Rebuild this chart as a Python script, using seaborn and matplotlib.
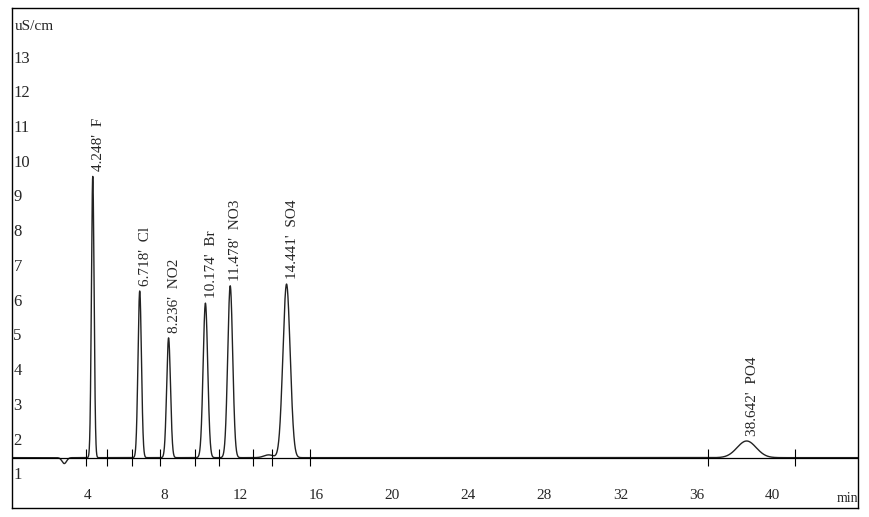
import numpy as np
import pandas as pd
import seaborn as sns
import matplotlib.pyplot as plt

# === Peak table ===
ions       = ['F', 'Cl', 'NO2', 'Br', 'NO3', 'SO4', 'PO4']
ret_times  = [4.248, 6.718, 8.236, 10.174, 11.478, 14.441, 38.642]
heights    = [8.1, 4.8, 3.45, 4.45, 4.95, 5.0, 0.48]   # above baseline
widths     = [0.07, 0.09, 0.10, 0.12, 0.13, 0.19, 0.50]   # peak sigma, min
BASELINE   = 1.45
# small features: system dip and bump
extra_t    = [2.75, 13.5]
extra_h    = [-0.17, 0.08]
extra_w    = [0.12, 0.25]
# integration marks on baseline
marks      = [3.9, 5.0, 6.3, 7.8, 9.6, 10.9, 12.7, 13.7, 15.7, 36.6, 41.2]

t = np.linspace(0, 44.5, 9000)
sig = np.full_like(t, BASELINE)
for rt, h, w in zip(ret_times + extra_t, heights + extra_h, widths + extra_w):
    sig += h * np.exp(-0.5 * ((t - rt) / w) ** 2)
df = pd.DataFrame({'time': t, 'signal': sig})

sns.set_style('white')
plt.rcParams['font.family'] = ['Liberation Serif', 'DejaVu Serif']

fig = plt.figure(figsize=(8.69, 5.17), dpi=100)
ax = fig.add_axes([12/869, 9/517, 846/869, 500/517])
sns.lineplot(data=df, x='time', y='signal', color='#222222', linewidth=1.0, ax=ax)
ax.axhline(BASELINE, color='black', linewidth=0.9)
ax.vlines(marks, BASELINE - 0.25, BASELINE + 0.25, color='black', linewidth=0.8)

for ion, rt, h in zip(ions, ret_times, heights):
    ax.text(rt + 0.3, BASELINE + h + 0.15, f"{rt:.3f}'  {ion}", rotation=90,
            ha='center', va='bottom', fontsize=11)

ax.set_xlim(0, 44.5)
ax.set_ylim(0, 14.4)
ax.set_xticks(range(4, 41, 4))
ax.set_yticks(range(1, 14))
ax.tick_params(axis='y', direction='in', length=3, pad=-1, labelsize=12)
for lab in ax.get_yticklabels():
    lab.set_horizontalalignment('left')
ax.tick_params(axis='x', direction='in', length=0, pad=-14, labelsize=11)
ax.set_xlabel('')
ax.set_ylabel('')
ax.text(0.003, 0.975, 'uS/cm', transform=ax.transAxes, fontsize=11, va='top')
ax.text(0.975, 0.005, 'min', transform=ax.transAxes, fontsize=10, va='bottom')
for s in ax.spines.values():
    s.set_color('black')
    s.set_linewidth(1.0)

fig.savefig('out.png', dpi=100)
